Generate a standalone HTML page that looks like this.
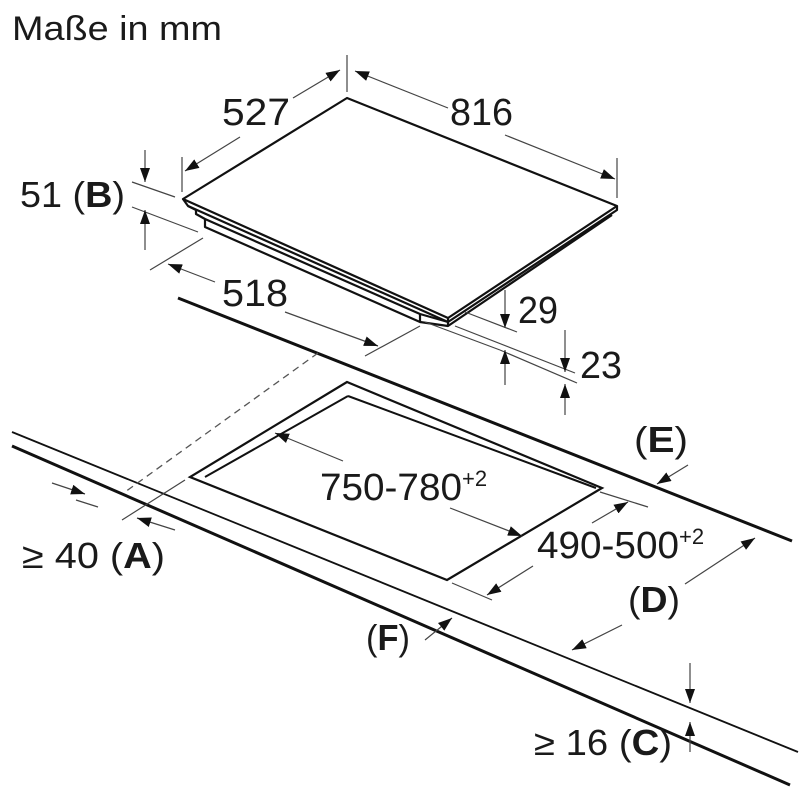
<!DOCTYPE html>
<html><head><meta charset="utf-8"><style>
html,body{margin:0;padding:0;background:#fff;width:800px;height:800px;overflow:hidden}
svg{display:block}
text{font-family:"Liberation Sans",sans-serif;fill:#1a1a1a}
</style></head><body>
<svg width="800" height="800" viewBox="0 0 800 800" xmlns="http://www.w3.org/2000/svg">
<defs>
<marker id="b" viewBox="0 0 14 10" refX="14" refY="5" markerWidth="14" markerHeight="10" orient="auto" markerUnits="userSpaceOnUse"><path d="M0,0 L14,5 L0,10 z" fill="#111"/></marker>
</defs>
<text x="12" y="40" font-size="34" textLength="210" lengthAdjust="spacingAndGlyphs">Maße in mm</text>
<!-- hob -->
<g fill="none" stroke="#111" stroke-width="2.2" stroke-linejoin="round">
<path d="M183,199 L347,98 L617,206 L448,318 Z"/>
<path d="M183,199 L188,206 L448,322 L617,210 L617,206"/>
<path d="M188,206 L196,210 L196,214 L205,219 L420,314 L448,322"/>
<path d="M205,219 L205,227 L420,322 L420,314"/>
<path d="M448,318 L448,326 L612,215"/>
<path d="M420,322 L448,326"/>
</g>
<g stroke="#444" stroke-width="1.2" fill="none">
<line x1="347" y1="55" x2="347" y2="92"/>
<line x1="182" y1="157" x2="182" y2="192"/>
<line x1="617" y1="158" x2="617" y2="198"/>
<line x1="132" y1="182" x2="175" y2="197"/>
<line x1="132" y1="207" x2="198" y2="232"/>
<line x1="150" y1="270" x2="203" y2="238"/>
<line x1="365" y1="356" x2="420" y2="326"/>
<line x1="465" y1="312" x2="517" y2="332"/>
<line x1="425" y1="322" x2="500" y2="350"/>
<line x1="455" y1="326" x2="575" y2="373"/>
<line x1="500" y1="350" x2="577" y2="383"/>
<line x1="293" y1="98" x2="340" y2="70" marker-end="url(#b)"/>
<line x1="240" y1="137" x2="185" y2="171" marker-end="url(#b)"/>
<line x1="448" y1="108" x2="355" y2="71" marker-end="url(#b)"/>
<line x1="505" y1="135" x2="615" y2="179" marker-end="url(#b)"/>
<line x1="145" y1="150" x2="145" y2="182" marker-end="url(#b)"/>
<line x1="145" y1="250" x2="145" y2="210" marker-end="url(#b)"/>
<line x1="215" y1="282" x2="168" y2="264" marker-end="url(#b)"/>
<line x1="285" y1="312" x2="378" y2="346" marker-end="url(#b)"/>
<line x1="505" y1="290" x2="505" y2="328" marker-end="url(#b)"/>
<line x1="505" y1="385" x2="505" y2="350" marker-end="url(#b)"/>
<line x1="565" y1="330" x2="565" y2="372" marker-end="url(#b)"/>
<line x1="565" y1="415" x2="565" y2="384" marker-end="url(#b)"/>
</g>
<text x="222" y="125" font-size="38" textLength="68" lengthAdjust="spacingAndGlyphs">527</text>
<text x="450" y="125" font-size="38" textLength="63" lengthAdjust="spacingAndGlyphs">816</text>
<text x="20" y="207" font-size="36" textLength="105" lengthAdjust="spacingAndGlyphs">51 (<tspan font-weight="bold">B</tspan>)</text>
<text x="222" y="306" font-size="38" textLength="66" lengthAdjust="spacingAndGlyphs">518</text>
<text x="518" y="323" font-size="38" textLength="40" lengthAdjust="spacingAndGlyphs">29</text>
<text x="580" y="378" font-size="38" textLength="42" lengthAdjust="spacingAndGlyphs">23</text>
<!-- worktop -->
<g stroke="#111" fill="none">
<line x1="178" y1="298" x2="792" y2="541" stroke-width="3"/>
<line x1="12" y1="432" x2="798" y2="752" stroke-width="1.8"/>
<line x1="12" y1="446" x2="790" y2="785" stroke-width="3"/>
<path d="M347,382 L190,477 L447,580 L602,488 Z" stroke-width="2.2"/>
<path d="M348,396 L205,477 M348,396 L596,488" stroke-width="2"/>
</g>
<line x1="318" y1="353" x2="125" y2="492" stroke="#555" stroke-width="1.3" stroke-dasharray="7,5"/>
<g stroke="#444" stroke-width="1.2" fill="none">
<line x1="185" y1="480" x2="122" y2="520"/>
<line x1="76" y1="500" x2="98" y2="507"/>
<line x1="52" y1="483" x2="85" y2="494" marker-end="url(#b)"/>
<line x1="175" y1="530" x2="137" y2="518" marker-end="url(#b)"/>
<line x1="343" y1="461" x2="275" y2="433" marker-end="url(#b)"/>
<line x1="450" y1="508" x2="522" y2="536" marker-end="url(#b)"/>
<line x1="600" y1="492" x2="648" y2="507"/>
<line x1="452" y1="583" x2="492" y2="600"/>
<line x1="592" y1="523" x2="628" y2="502" marker-end="url(#b)"/>
<line x1="533" y1="566" x2="487" y2="595" marker-end="url(#b)"/>
<line x1="685" y1="584" x2="755" y2="538" marker-end="url(#b)"/>
<line x1="622" y1="625" x2="572" y2="650" marker-end="url(#b)"/>
<line x1="688" y1="465" x2="657" y2="484" marker-end="url(#b)"/>
<line x1="425" y1="640" x2="452" y2="618" marker-end="url(#b)"/>
<line x1="690" y1="663" x2="690" y2="703" marker-end="url(#b)"/>
<line x1="690" y1="752" x2="690" y2="722" marker-end="url(#b)"/>
</g>
<text x="320" y="500" font-size="38"><tspan textLength="142" lengthAdjust="spacingAndGlyphs">750-780</tspan><tspan font-size="22" dy="-14">+2</tspan></text>
<text x="537" y="558" font-size="38"><tspan textLength="142" lengthAdjust="spacingAndGlyphs">490-500</tspan><tspan font-size="22" dy="-14">+2</tspan></text>
<text x="634" y="452" font-size="36" textLength="54" lengthAdjust="spacingAndGlyphs">(<tspan font-weight="bold">E</tspan>)</text>
<text x="22" y="568" font-size="36" textLength="143" lengthAdjust="spacingAndGlyphs">≥ 40 (<tspan font-weight="bold">A</tspan>)</text>
<text x="628" y="612" font-size="36" textLength="52" lengthAdjust="spacingAndGlyphs">(<tspan font-weight="bold">D</tspan>)</text>
<text x="366" y="650" font-size="36" textLength="44" lengthAdjust="spacingAndGlyphs">(<tspan font-weight="bold">F</tspan>)</text>
<text x="534" y="755" font-size="36" textLength="138" lengthAdjust="spacingAndGlyphs">≥ 16 (<tspan font-weight="bold">C</tspan>)</text>
</svg>
</body></html>
